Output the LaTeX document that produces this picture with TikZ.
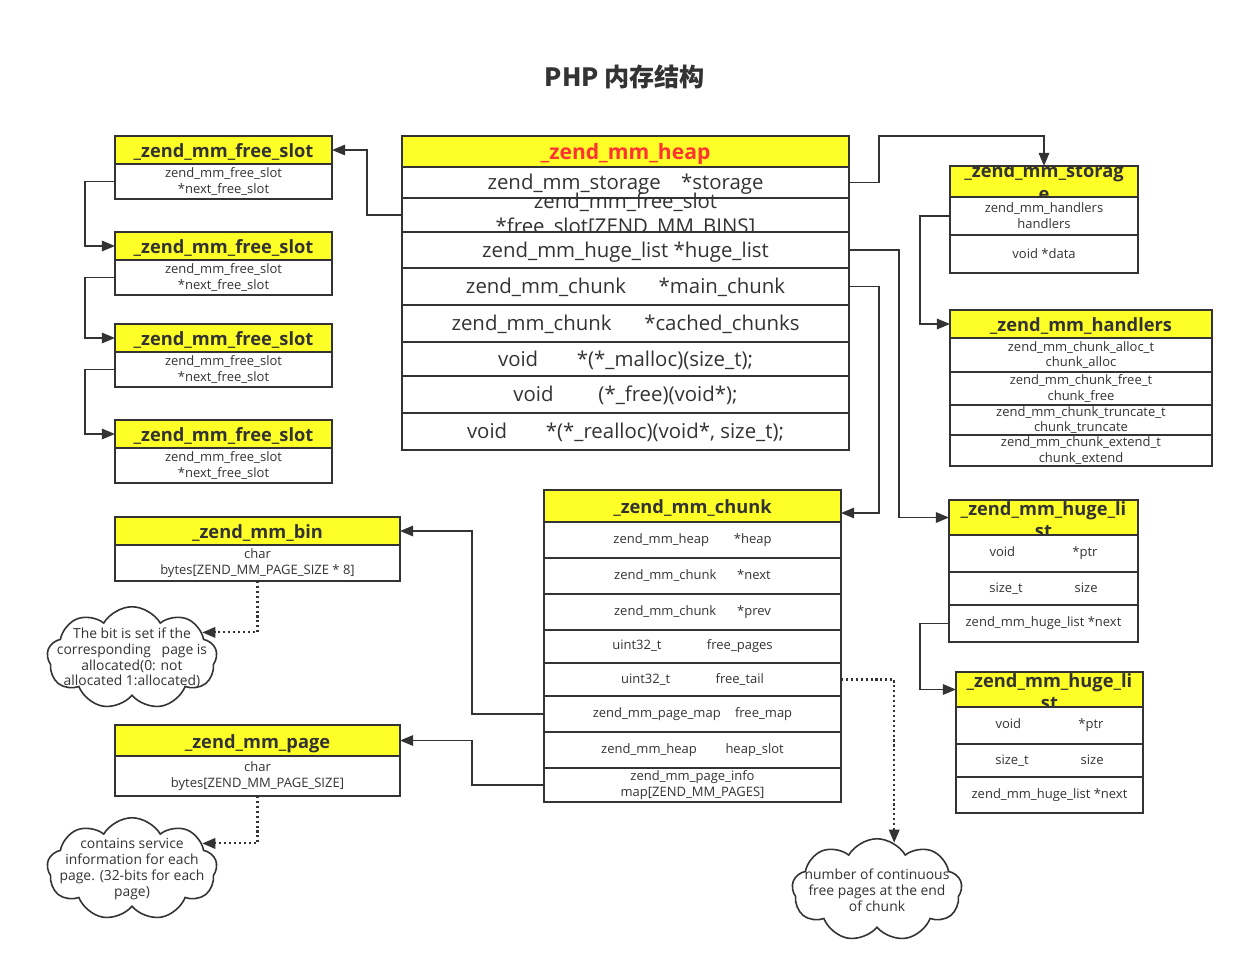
\documentclass[tikz,border=0pt]{standalone}
\usepackage{fontspec}
\setmainfont{Open Sans}
\newfontfamily\cjkfont{Noto Sans CJK SC}
\usetikzlibrary{positioning, arrows.meta, shapes.symbols}

\definecolor{inkgray}{RGB}{51,51,51}
\definecolor{hdryellow}{RGB}{255,255,40}
\definecolor{heapred}{RGB}{255,51,51}

\newcommand{\hdrfont}{\fontsize{10.4}{13}\selectfont\bfseries}
\newcommand{\smallfont}{\fontsize{7.4}{9}\selectfont}
\newcommand{\notefont}{\fontsize{7.9}{9}\selectfont}
\newcommand{\bigfont}{\fontsize{11.6}{14.5}\selectfont}

\begin{document}
\begin{tikzpicture}[
        hdr/.style = {rectangle, draw=inkgray, fill=hdryellow, line width=1.1pt, outer sep=0pt, inner sep=0pt, anchor=north west, font=\hdrfont, text=inkgray, text height=1.1em, text depth=0.2em},
        fld/.style = {rectangle, draw=inkgray, fill=white, line width=1.1pt, outer sep=0pt, inner sep=0pt, align=center, font=\smallfont, text=inkgray},
        heaprow/.style = {fld, font=\bigfont, minimum width=8.94cm, text height=1.05em, text depth=0.23em},
        chunkrow/.style = {fld, minimum width=5.94cm},
        slotrow/.style = {fld, minimum width=4.34cm, minimum height=0.70cm},
        storerow/.style = {fld, minimum width=3.76cm, minimum height=0.76cm},
        handrow/.style = {fld, minimum width=5.24cm},
        hugerow/.style = {fld, minimum width=3.78cm},
        binrow/.style = {fld, minimum width=5.70cm},
        bigtxt/.style = {font=\bigfont, text=inkgray, align=center},
        notetxt/.style = {font=\notefont, text=inkgray, align=center},
        cloudy/.style = {cloud, cloud puffs=9, cloud puff arc=120, aspect=1.6, draw=inkgray, fill=white, line width=0.9pt, inner sep=0pt, minimum width=3.4cm, minimum height=2.05cm},
        link/.style = {draw=inkgray, line width=0.9pt, -{Triangle[length=7.5pt, width=6pt]}},
        hint/.style = {draw=inkgray, line width=1.2pt, dash pattern=on 1.2pt off 1.6pt, -{Triangle[length=7.5pt, width=6pt]}}
    ]
    \useasboundingbox (0,0) rectangle (24.84,-19.5);

    % Title
    \node[font=\cjkfont\bfseries\fontsize{14.3}{17}\selectfont, text=inkgray] (title) at (12.5,-1.54) {PHP 内存结构};

    % Heap
    \node[hdr, minimum width=8.94cm, minimum height=0.62cm, text=heapred, font=\hdrfont\fontsize{12}{14}\selectfont] (heaph) at (8.04,-2.72) {\_zend\_mm\_heap};
    \node[heaprow, minimum height=0.62cm, below=0pt of heaph] (heapA) {zend\_mm\_storage\hspace{1em}*storage};
    \node[fld, minimum width=8.94cm, minimum height=0.68cm, below=0pt of heapA, label={[bigtxt]center:{zend\_mm\_free\_slot\\*free\_slot[ZEND\_MM\_BINS]}}] (heapB) {};
    \node[heaprow, minimum height=0.72cm, below=0pt of heapB] (heapC) {zend\_mm\_huge\_list *huge\_list};
    \node[heaprow, minimum height=0.74cm, below=0pt of heapC] (heapD) {zend\_mm\_chunk\hspace{1.6em}*main\_chunk};
    \node[heaprow, minimum height=0.74cm, below=0pt of heapD] (heapE) {zend\_mm\_chunk\hspace{1.6em}*cached\_chunks};
    \node[heaprow, minimum height=0.68cm, below=0pt of heapE] (heapF) {void\hspace{1.9em}*(*\_malloc)(size\_t);};
    \node[heaprow, minimum height=0.74cm, below=0pt of heapF] (heapG) {void\hspace{2.2em}(*\_free)(void*);};
    \node[heaprow, minimum height=0.74cm, below=0pt of heapG] (heapH) {void\hspace{1.9em}*(*\_realloc)(void*, size\_t);};

    % Free slots
    \node[hdr, minimum width=4.34cm, minimum height=0.56cm] (fs1h) at (2.30,-2.72) {\_zend\_mm\_free\_slot};
    \node[slotrow, below=0pt of fs1h] (fs1r) {zend\_mm\_free\_slot\\*next\_free\_slot};
    \node[hdr, minimum width=4.34cm, minimum height=0.56cm] (fs2h) at (2.30,-4.64) {\_zend\_mm\_free\_slot};
    \node[slotrow, below=0pt of fs2h] (fs2r) {zend\_mm\_free\_slot\\*next\_free\_slot};
    \node[hdr, minimum width=4.34cm, minimum height=0.56cm] (fs3h) at (2.30,-6.48) {\_zend\_mm\_free\_slot};
    \node[slotrow, below=0pt of fs3h] (fs3r) {zend\_mm\_free\_slot\\*next\_free\_slot};
    \node[hdr, minimum width=4.34cm, minimum height=0.56cm] (fs4h) at (2.30,-8.40) {\_zend\_mm\_free\_slot};
    \node[slotrow, below=0pt of fs4h] (fs4r) {zend\_mm\_free\_slot\\*next\_free\_slot};

    % Storage
    \node[hdr, minimum width=3.76cm, minimum height=0.62cm] (sth) at (19.0,-3.32) {};
    \begin{scope}
        \clip (sth.north west) rectangle (sth.south east);
        \node[font=\hdrfont, text=inkgray, align=center, anchor=north] (sttitle) at ([yshift=0.17cm]sth.north) {\_zend\_mm\_storag\\e};
    \end{scope}
    \node[storerow, below=0pt of sth] (stA) {zend\_mm\_handlers\\handlers};
    \node[storerow, below=0pt of stA] (stB) {void *data};

    % Handlers
    \node[hdr, minimum width=5.24cm, minimum height=0.56cm] (hdh) at (19.0,-6.20) {\_zend\_mm\_handlers};
    \node[handrow, minimum height=0.68cm, below=0pt of hdh] (hdA) {zend\_mm\_chunk\_alloc\_t\\chunk\_alloc};
    \node[handrow, minimum height=0.66cm, below=0pt of hdA] (hdB) {zend\_mm\_chunk\_free\_t\\chunk\_free};
    \node[handrow, minimum height=0.60cm, below=0pt of hdB] (hdC) {zend\_mm\_chunk\_truncate\_t\\chunk\_truncate};
    \node[handrow, minimum height=0.62cm, below=0pt of hdC] (hdD) {zend\_mm\_chunk\_extend\_t\\chunk\_extend};

    % Huge lists
    \node[hdr, minimum width=3.78cm, minimum height=0.70cm] (hl1h) at (18.98,-10.0) {};
    \begin{scope}
        \clip (hl1h.north west) rectangle (hl1h.south east);
        \node[font=\hdrfont, text=inkgray, align=center, anchor=north] (hl1title) at ([yshift=0.1cm]hl1h.north) {\_zend\_mm\_huge\_li\\st};
    \end{scope}
    \node[hugerow, minimum height=0.74cm, below=0pt of hl1h] (hl1a) {void\hspace{4.4em}*ptr};
    \node[hugerow, minimum height=0.66cm, below=0pt of hl1a] (hl1b) {size\_t\hspace{4em}size};
    \node[hugerow, minimum height=0.74cm, below=0pt of hl1b] (hl1c) {zend\_mm\_huge\_list *next};

    \node[hdr, minimum width=3.74cm, minimum height=0.70cm] (hl2h) at (19.12,-13.44) {};
    \begin{scope}
        \clip (hl2h.north west) rectangle (hl2h.south east);
        \node[font=\hdrfont, text=inkgray, align=center, anchor=north] (hl2title) at ([yshift=0.1cm]hl2h.north) {\_zend\_mm\_huge\_li\\st};
    \end{scope}
    \node[hugerow, minimum width=3.74cm, minimum height=0.74cm, below=0pt of hl2h] (hl2a) {void\hspace{4.4em}*ptr};
    \node[hugerow, minimum width=3.74cm, minimum height=0.66cm, below=0pt of hl2a] (hl2b) {size\_t\hspace{4em}size};
    \node[hugerow, minimum width=3.74cm, minimum height=0.72cm, below=0pt of hl2b] (hl2c) {zend\_mm\_huge\_list *next};

    % Chunk
    \node[hdr, minimum width=5.94cm, minimum height=0.64cm] (chh) at (10.88,-9.80) {\_zend\_mm\_chunk};
    \node[chunkrow, minimum height=0.72cm, below=0pt of chh] (chA) {zend\_mm\_heap\hspace{1.9em}*heap};
    \node[chunkrow, minimum height=0.72cm, below=0pt of chA] (chB) {zend\_mm\_chunk\hspace{1.6em}*next};
    \node[chunkrow, minimum height=0.72cm, below=0pt of chB] (chC) {zend\_mm\_chunk\hspace{1.6em}*prev};
    \node[chunkrow, minimum height=0.66cm, below=0pt of chC] (chD) {uint32\_t\hspace{3.5em}free\_pages};
    \node[chunkrow, minimum height=0.66cm, below=0pt of chD] (chE) {uint32\_t\hspace{3.5em}free\_tail};
    \node[chunkrow, minimum height=0.72cm, below=0pt of chE] (chF) {zend\_mm\_page\_map\hspace{1.1em}free\_map};
    \node[chunkrow, minimum height=0.72cm, below=0pt of chF] (chG) {zend\_mm\_heap\hspace{2.2em}heap\_slot};
    \node[chunkrow, minimum height=0.68cm, below=0pt of chG] (chH) {zend\_mm\_page\_info\\map[ZEND\_MM\_PAGES]};

    % Bin and page
    \node[hdr, minimum width=5.70cm, minimum height=0.56cm] (binh) at (2.30,-10.34) {\_zend\_mm\_bin};
    \node[binrow, minimum height=0.72cm, below=0pt of binh] (binr) {char\\bytes[ZEND\_MM\_PAGE\_SIZE * 8]};
    \node[hdr, minimum width=5.70cm, minimum height=0.62cm] (pgh) at (2.30,-14.50) {\_zend\_mm\_page};
    \node[binrow, minimum height=0.80cm, below=0pt of pgh] (pgr) {char\\bytes[ZEND\_MM\_PAGE\_SIZE]};

    % Notes
    \node[cloudy, label={[notetxt]center:{The bit is set if the\\corresponding\ \ \ page is\\allocated(0: not\\allocated 1:allocated)}}] (bitnote) at (2.64,-13.16) {};
    \node[cloudy, label={[notetxt]center:{contains service\\information for each\\page. (32-bits for each\\page)}}] (pagenote) at (2.64,-17.38) {};
    \node[cloudy, label={[notetxt]center:{number of continuous\\free pages at the end\\of chunk}}] (tailnote) at (17.54,-17.80) {};

    % Edges
    \draw[link] (heapB.west) -- ++(-0.7,0) |- (fs1h.east);
    \draw[link] (fs1r.west) -- ++(-0.6,0) |- (fs2h.west);
    \draw[link] (fs2r.west) -- ++(-0.6,0) |- (fs3h.west);
    \draw[link] (fs3r.west) -- ++(-0.6,0) |- (fs4h.west);
    \draw[link] (heapA.east) -- ++(0.6,0) |- ([yshift=0.6cm]sth.north) -- (sth.north);
    \draw[link] (stA.west) -- ++(-0.6,0) |- (hdh.west);
    \draw[link] (heapC.east) -- ++(1.0,0) |- (hl1h.west);
    \draw[link] (heapD.east) -- ++(0.6,0) |- ([yshift=-0.14cm]chh.east);
    \draw[link] (hl1c.west) -- ++(-0.58,0) |- (hl2h.west);
    \draw[link] (chF.west) -- ++(-1.44,0) |- (binh.east);
    \draw[link] (chH.west) -- ++(-1.44,0) |- (pgh.east);
    \draw[hint] (binr.south) |- (bitnote.20);
    \draw[hint] (pgr.south) |- (pagenote.20);
    \draw[hint] (chE.east) -| (tailnote.70);

\end{tikzpicture}
\end{document}
